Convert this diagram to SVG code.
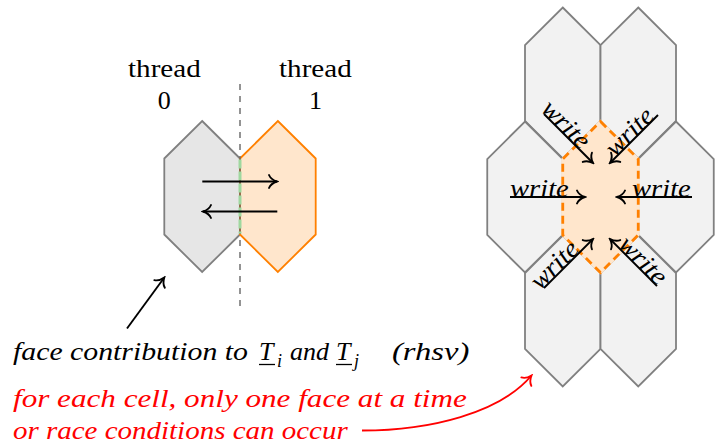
<svg xmlns="http://www.w3.org/2000/svg" width="727" height="446" viewBox="0 0 727 446">
<defs>
<marker id="to" viewBox="-11 -8 13 16" refX="0" refY="0" markerWidth="13" markerHeight="16" orient="auto" markerUnits="userSpaceOnUse">
<path d="M-8,-6.5 C-6.5,-3 -3,-1 0,0 C-3,1 -6.5,3 -8,6.5" fill="none" stroke="#000" stroke-width="1.9" stroke-linecap="round"/>
</marker>
<marker id="tor" viewBox="-11 -8 13 16" refX="0" refY="0" markerWidth="13" markerHeight="16" orient="auto" markerUnits="userSpaceOnUse">
<path d="M-8,-6.5 C-6.5,-3 -3,-1 0,0 C-3,1 -6.5,3 -8,6.5" fill="none" stroke="#ff0000" stroke-width="1.9" stroke-linecap="round"/>
</marker>
</defs>
<rect width="727" height="446" fill="#ffffff"/>

<g id="cell-thread0">
<polygon points="202.15,121 240,158.5 240,234.5 202.15,272 164.3,234.5 164.3,158.5" fill="#e6e6e6" stroke="#808080" stroke-width="1.8"/>
</g>
<g id="cell-thread1">
<polygon points="277.85,121 315.7,158.5 315.7,234.5 277.85,272 240,234.5 240,158.5" fill="#ffe6cc" stroke="#ff8000" stroke-width="1.8"/>
</g>
<g id="thread-divider">
<line x1="240" y1="84" x2="240" y2="307" stroke="#666666" stroke-width="1.4" stroke-dasharray="6 6"/>
</g>
<g id="shared-face">
<line x1="240" y1="159.5" x2="240" y2="233.5" stroke="#9fd89f" stroke-width="3" stroke-dasharray="9 3"/>
</g>
<g id="label-thread0" font-family="Liberation Serif, serif" font-size="26">
<text transform="translate(128,77) scale(1.12,1)">thread</text>
<text x="164.3" y="109" text-anchor="middle">0</text>
</g>
<g id="label-thread1" font-family="Liberation Serif, serif" font-size="26">
<text transform="translate(279,77) scale(1.12,1)">thread</text>
<text x="315.5" y="109" text-anchor="middle">1</text>
</g>
<g id="label-face" font-family="Liberation Serif, serif" font-style="italic" font-size="26">
<text transform="translate(13,360) scale(1.146,1)">face contribution to</text>
<text x="259" y="360">T</text>
<line x1="259" y1="364.5" x2="275" y2="364.5" stroke="#000" stroke-width="1.3"/>
<text x="277" y="367" font-size="18">i</text>
<text x="290" y="360">and</text>
<text x="336" y="360">T</text>
<line x1="336" y1="364.5" x2="352" y2="364.5" stroke="#000" stroke-width="1.3"/>
<text x="354" y="367" font-size="18">j</text>
<text transform="translate(392,360) scale(1.256,1)">(rhsv)</text>
</g>
<g id="label-race" font-family="Liberation Serif, serif" font-style="italic" font-size="26" fill="#ff0000">
<text transform="translate(13,407) scale(1.1975,1)">for each cell, only one face at a time</text>
<text transform="translate(13,439) scale(1.115,1)">or race conditions can occur</text>
</g>

<g id="cell-top-left"><polygon fill="#f2f2f2" stroke="#808080" stroke-width="1.8" points="562.75,7.5 600.5,45 600.5,121 562.75,158.5 525,121 525,45"/></g>
<g id="cell-top-right"><polygon fill="#f2f2f2" stroke="#808080" stroke-width="1.8" points="638.25,7.5 676,45 676,121 638.25,158.5 600.5,121 600.5,45"/></g>
<g id="cell-mid-left"><polygon fill="#f2f2f2" stroke="#808080" stroke-width="1.8" points="525,121.5 562.75,159 562.75,235 525,272.5 487.25,235 487.25,159"/></g>
<g id="cell-mid-right"><polygon fill="#f2f2f2" stroke="#808080" stroke-width="1.8" points="676,121.5 713.75,159 713.75,235 676,272.5 638.25,235 638.25,159"/></g>
<g id="cell-bottom-left"><polygon fill="#f2f2f2" stroke="#808080" stroke-width="1.8" points="562.75,235.5 600.5,273 600.5,349 562.75,386.5 525,349 525,273"/></g>
<g id="cell-bottom-right"><polygon fill="#f2f2f2" stroke="#808080" stroke-width="1.8" points="638.25,235.5 676,273 676,349 638.25,386.5 600.5,349 600.5,273"/></g>
<g id="cell-center">
<polygon points="600.5,121.5 638.25,159 638.25,235 600.5,272.5 562.75,235 562.75,159" fill="#ffe6cc" stroke="#ffe6cc" stroke-width="2.8"/>
<polygon points="600.5,121.5 638.25,159 638.25,235 600.5,272.5 562.75,235 562.75,159" fill="none" stroke="#ff8000" stroke-width="2.8" stroke-dasharray="8 5"/>
</g>

<g id="connectors" fill="none" stroke="#000" stroke-width="1.9">
<line x1="202.3" y1="181.5" x2="277" y2="181.5" marker-end="url(#to)"/>
<line x1="277.3" y1="211.5" x2="203" y2="211.5" marker-end="url(#to)"/>
<line x1="127" y1="328.5" x2="164.3" y2="277.5" marker-end="url(#to)"/>
<path d="M362,430.5 C430,430.5 500,413 531.5,375.5" stroke="#ff0000" marker-end="url(#tor)"/>
<line x1="544" y1="114" x2="593" y2="163" marker-end="url(#to)"/>
<line x1="658" y1="115" x2="610" y2="163" marker-end="url(#to)"/>
<line x1="510" y1="197" x2="585" y2="197" marker-end="url(#to)"/>
<line x1="692" y1="197" x2="617" y2="197" marker-end="url(#to)"/>
<line x1="544" y1="288" x2="593" y2="239" marker-end="url(#to)"/>
<line x1="657" y1="286" x2="610" y2="239" marker-end="url(#to)"/>
</g>
<g id="write-labels" font-family="Liberation Serif, serif" font-style="italic" font-size="26">
<text transform="translate(540,110) rotate(45) scale(1.07,1)">write</text>
<text transform="translate(615,158) rotate(-45) scale(1.07,1)">write</text>
<text transform="translate(510,197) scale(1.1,1)">write</text>
<text transform="translate(632,197) scale(1.1,1)">write</text>
<text transform="translate(540,291) rotate(-45) scale(1.07,1)">write</text>
<text transform="translate(617,246) rotate(45) scale(1.07,1)">write</text>
</g>
</svg>
